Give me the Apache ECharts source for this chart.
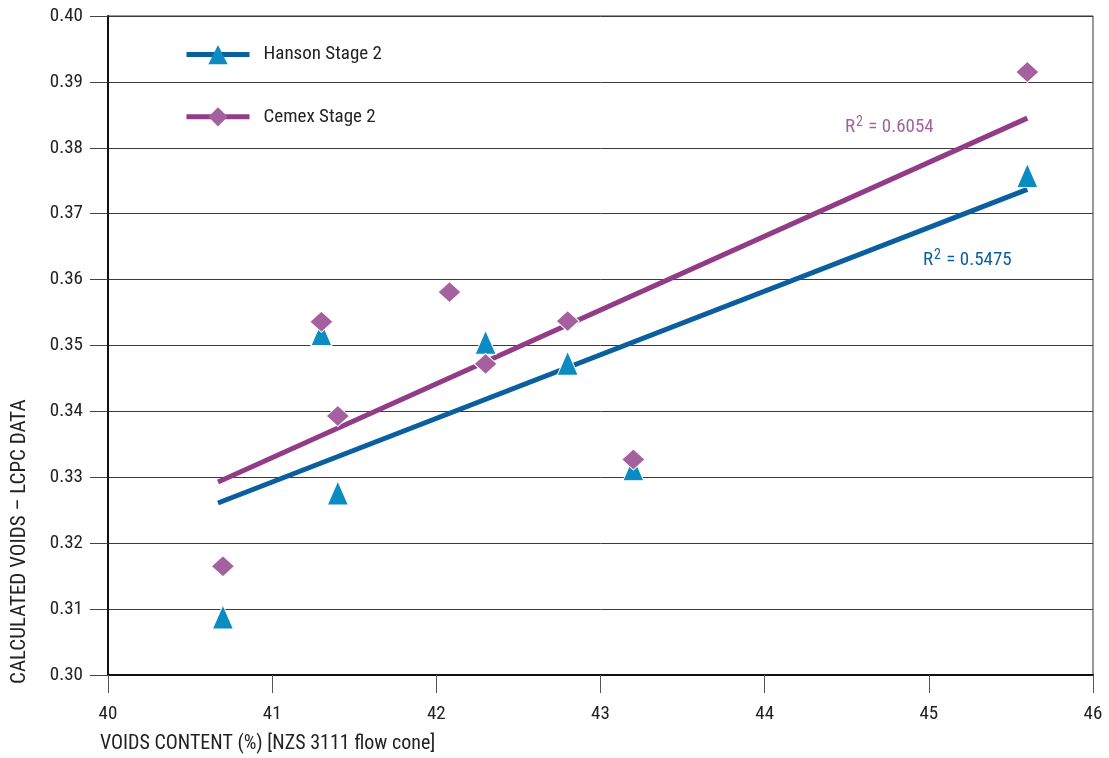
<!DOCTYPE html>
<html><head><meta charset="utf-8">
<script src="https://cdn.jsdelivr.net/npm/echarts@6/dist/echarts.min.js"></script>
<style>html,body{margin:0;padding:0;background:#fff}#c{width:1109px;height:758px}</style>
</head><body><div id="c"></div>
<script>
const xTicks = [40, 41, 42, 43, 44, 45, 46];
const yTicks = [0.30, 0.31, 0.32, 0.33, 0.34, 0.35, 0.36, 0.37, 0.38, 0.39, 0.40];
const hansonX = [40.7, 41.3, 41.4, 42.3, 42.8, 43.2, 45.6];
const hansonY = [0.3088, 0.3518, 0.3276, 0.3505, 0.3473, 0.3313, 0.3758];
const cemexX = [40.7, 41.3, 41.4, 42.08, 42.3, 42.8, 43.2, 45.6];
const cemexY = [0.3165, 0.3536, 0.3393, 0.3581, 0.3472, 0.3537, 0.3327, 0.3915];
const hansonTrendX = [40.67, 45.6];
const hansonTrendY = [0.3261, 0.3737];
const cemexTrendX = [40.67, 45.6];
const cemexTrendY = [0.3293, 0.3845];
const seriesNames = ['Hanson Stage 2', 'Cemex Stage 2'];

const FONT = '"Roboto Condensed", Roboto, "Liberation Sans", sans-serif';
const C_H_LINE = '#0a5f9f', C_H_PT = '#0a8cc2';
const C_C_LINE = '#923c88', C_C_PT = '#a5619f';
const zip = (a, b) => a.map((v, i) => [v, b[i]]);

const chart = echarts.init(document.getElementById('c'), null, {renderer: 'canvas'});
chart.setOption({
  animation: false,
  grid: {left: 108, right: 16, top: 16, bottom: 83, show: true, borderColor: '#333', borderWidth: 1},
  legend: {
    data: seriesNames, orient: 'vertical', left: 184, top: 45, padding: 0, itemWidth: 63, itemHeight: 24, itemGap: 43,
    lineStyle: {width: 5},
    textStyle: {fontFamily: FONT, fontSize: 19, color: '#222', padding: [0, 0, 0, 9]}
  },
  xAxis: {
    type: 'value', min: 40, max: 46, interval: 1,
    axisLine: {lineStyle: {color: '#111', width: 2}},
    axisTick: {length: 18, lineStyle: {color: '#555'}},
    axisLabel: {margin: 30, fontFamily: FONT, fontSize: 19, color: '#222',
      formatter: v => xTicks.includes(v) ? String(v) : ''},
    splitLine: {show: false}
  },
  yAxis: {
    type: 'value', min: 0.30, max: 0.40, interval: 0.01,
    axisLine: {lineStyle: {color: '#111', width: 2}},
    axisTick: {length: 18, inside: false, lineStyle: {color: '#444'}},
    axisLabel: {margin: 25, fontFamily: FONT, fontSize: 19, color: '#222',
      formatter: v => { const t = yTicks.find(y => Math.abs(y - v) < 1e-6); return t !== undefined ? t.toFixed(2) : ''; }},
    splitLine: {lineStyle: {color: '#3a3a3a', width: 1}}
  },
  series: [
    {name: seriesNames[0], type: 'line', data: zip(hansonTrendX, hansonTrendY), symbol: 'triangle', symbolSize: [22, 24],
      showSymbol: false, lineStyle: {color: C_H_LINE, width: 5}, itemStyle: {color: C_H_PT}, z: 3},
    {name: seriesNames[1], type: 'line', data: zip(cemexTrendX, cemexTrendY), symbol: 'diamond', symbolSize: [22, 21],
      showSymbol: false, lineStyle: {color: C_C_LINE, width: 5}, itemStyle: {color: C_C_PT}, z: 3},
    {name: 'Hanson points', type: 'scatter', data: zip(hansonX, hansonY), symbol: 'triangle', symbolSize: [21, 24],
      itemStyle: {color: C_H_PT, opacity: 1, borderColor: '#fff', borderWidth: 1}, z: 4},
    {name: 'Cemex points', type: 'scatter', data: zip(cemexX, cemexY), symbol: 'diamond', symbolSize: [23, 21],
      itemStyle: {color: C_C_PT, opacity: 1, borderColor: '#fff', borderWidth: 1}, z: 5}
  ],
  graphic: [
    {type: 'text', left: 100, top: 734, style: {text: 'VOIDS CONTENT (%) [NZS 3111 flow cone]', font: '20px ' + FONT, fill: '#222'}},
    {type: 'text', x: 9, y: 684, rotation: Math.PI / 2, style: {text: 'CALCULATED VOIDS \u2013 LCPC DATA', font: '21px ' + FONT, fill: '#222'}},
    {type: 'text', left: 923, top: 248, style: {rich: {a: {font: '19px ' + FONT, fill: C_H_LINE}, s: {font: '14px ' + FONT, fill: C_H_LINE, padding: [0,1,10,1]}}, text: '{a|R}{s|2}{a| = 0.5475}'}},
    {type: 'text', left: 845, top: 115, style: {rich: {a: {font: '19px ' + FONT, fill: C_C_PT}, s: {font: '14px ' + FONT, fill: C_C_PT, padding: [0,1,10,1]}}, text: '{a|R}{s|2}{a| = 0.6054}'}}
  ]
});
</script></body></html>
